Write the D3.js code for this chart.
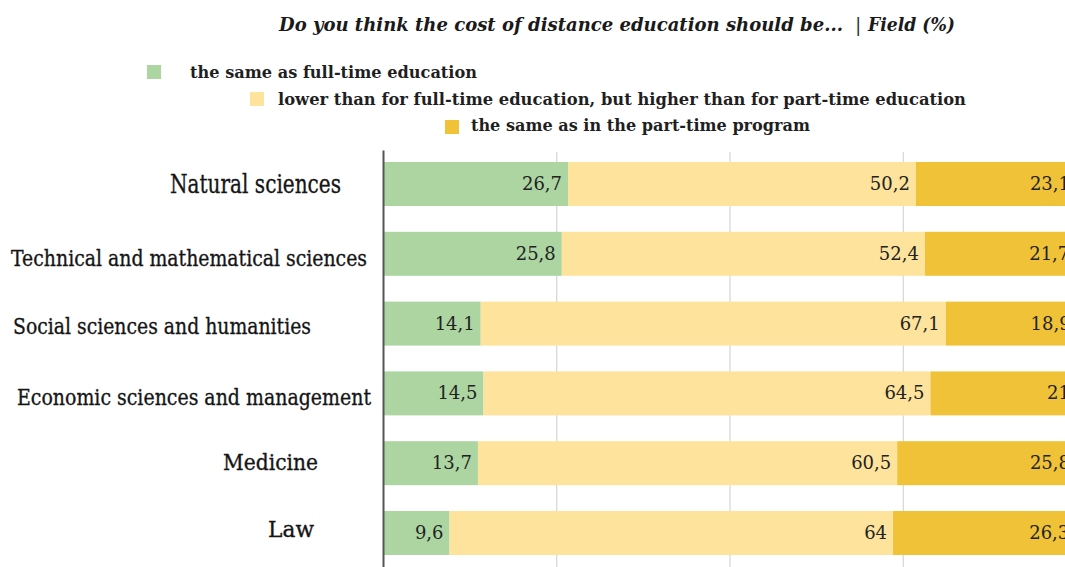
<!DOCTYPE html>
<html>
<head>
<meta charset="utf-8">
<script src="https://cdn.jsdelivr.net/npm/d3@7"></script>
<style>
  html, body { margin: 0; padding: 0; background: #fff; }
  svg { display: block; }
</style>
</head>
<body>
<svg id="chart" width="1065" height="567"></svg>
<script>
// Survey answers by field of study, percent of respondents
const categories = [
  "Natural sciences",
  "Technical and mathematical sciences",
  "Social sciences and humanities",
  "Economic sciences and management",
  "Medicine",
  "Law"
];
const seriesNames = [
  "the same as full-time education",
  "lower than for full-time education, but higher than for part-time education",
  "the same as in the part-time program"
];
const sameAsFullTime = [26.7, 25.8, 14.1, 14.5, 13.7, 9.6];
const inBetween      = [50.2, 52.4, 67.1, 64.5, 60.5, 64];
const sameAsPartTime = [23.1, 21.7, 18.9, 21, 25.8, 26.3];
const gridTicks = [0, 25, 50, 75, 100];

const titleMain = "Do you think the cost of distance education should be...";
const titleSep = "|";
const titleSub = "Field (%)";

// Look and layout
const colors = ["#acd5a2", "#fde39b", "#f0c238"];
const serif = "'DejaVu Serif', Georgia, serif";
// category label placement: left edge, text width, font size, baseline shift
const catLayout = [
  { x: 170, w: 171, fs: 26, dy: 9 },
  { x: 11,  w: 356, fs: 23, dy: 12 },
  { x: 13,  w: 298, fs: 23, dy: 10 },
  { x: 17,  w: 354, fs: 23, dy: 12 },
  { x: 223, w: 95,  fs: 22, dy: 7 },
  { x: 268, w: 46,  fs: 23, dy: 4 }
];

const svg = d3.select("#chart");

const x = d3.scaleLinear().domain([0, 100]).range([383, 1076]);
const y = d3.scaleBand()
  .domain(categories)
  .range([149.1, 567.9])
  .paddingInner(0.37)
  .paddingOuter(0.185);

// Title
const title = svg.append("text")
  .attr("y", 31)
  .attr("font-family", serif)
  .attr("fill", "#1a1a1a");
title.append("tspan")
  .attr("x", 279)
  .attr("font-size", 19)
  .attr("font-weight", "bold")
  .attr("font-style", "italic")
  .attr("textLength", 564)
  .attr("lengthAdjust", "spacingAndGlyphs")
  .text(titleMain);
title.append("tspan")
  .attr("x", 855)
  .attr("font-size", 19)
  .attr("fill", "#333")
  .text(titleSep);
title.append("tspan")
  .attr("x", 868)
  .attr("font-size", 19)
  .attr("font-weight", "bold")
  .attr("font-style", "italic")
  .attr("textLength", 87)
  .attr("lengthAdjust", "spacingAndGlyphs")
  .text(titleSub);

// Legend, stepped diagonally
const legendPos = [
  { sx: 147, sy: 65, tx: 190, ty: 78, w: 287 },
  { sx: 250, sy: 92, tx: 278, ty: 104.5, w: 688 },
  { sx: 445, sy: 120, tx: 471, ty: 131, w: 339 }
];
const legend = svg.append("g");
seriesNames.forEach((name, i) => {
  const p = legendPos[i];
  legend.append("rect")
    .attr("x", p.sx).attr("y", p.sy)
    .attr("width", 14).attr("height", 14)
    .attr("fill", colors[i]);
  legend.append("text")
    .attr("x", p.tx).attr("y", p.ty)
    .attr("font-family", serif)
    .attr("font-size", 17)
    .attr("font-weight", "bold")
    .attr("fill", "#1f1f1f")
    .attr("textLength", p.w)
    .attr("lengthAdjust", "spacingAndGlyphs")
    .text(name);
});

// Vertical gridlines
const grid = svg.append("g")
  .attr("transform", "translate(0,152)")
  .call(d3.axisBottom(x).tickValues(gridTicks).tickSize(567 - 152).tickFormat(""));
grid.select(".domain").remove();
grid.selectAll(".tick line").attr("stroke", "#cdcdcd").attr("stroke-width", 1);

// Stacked bars
const rows = categories.map((c, i) => ({
  category: c,
  s0: sameAsFullTime[i],
  s1: inBetween[i],
  s2: sameAsPartTime[i]
}));
const stack = d3.stack().keys(["s0", "s1", "s2"]);
const layers = stack(rows);

const barG = svg.append("g");
layers.forEach((layer, li) => {
  const g = barG.append("g").attr("fill", colors[li]);
  g.selectAll("rect")
    .data(layer)
    .join("rect")
    .attr("x", d => x(d[0]))
    .attr("y", d => y(d.data.category))
    .attr("width", d => x(d[1]) - x(d[0]))
    .attr("height", y.bandwidth());

  g.selectAll("text")
    .data(layer)
    .join("text")
    .attr("x", d => x(d[1]) - 6)
    .attr("y", d => y(d.data.category) + y.bandwidth() / 2 + 6)
    .attr("text-anchor", "end")
    .attr("font-family", serif)
    .attr("font-size", 18)
    .attr("fill", "#222")
    .text(d => String(d.data[layer.key]).replace(".", ","));
});

// Left axis line
svg.append("g")
  .attr("transform", "translate(383,0)")
  .call(d3.axisLeft(d3.scaleLinear().range([150, 567])).ticks(0).tickSizeOuter(0))
  .select(".domain")
  .attr("stroke", "#555")
  .attr("stroke-width", 2);

// Category labels
svg.append("g")
  .selectAll("text")
  .data(categories)
  .join("text")
  .attr("x", (d, i) => catLayout[i].x)
  .attr("y", (d, i) => y(d) + y.bandwidth() / 2 + catLayout[i].dy)
  .attr("font-family", serif)
  .attr("font-size", (d, i) => catLayout[i].fs)
  .attr("fill", "#151515")
  .attr("stroke", "#151515")
  .attr("stroke-width", 0.35)
  .attr("textLength", (d, i) => catLayout[i].w)
  .attr("lengthAdjust", "spacingAndGlyphs")
  .text(d => d);
</script>
</body>
</html>
